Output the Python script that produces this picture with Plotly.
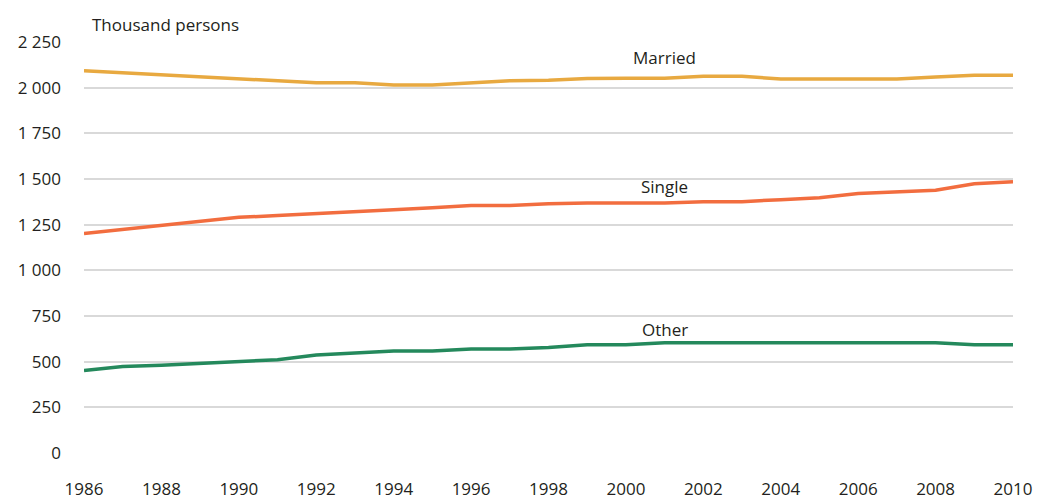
import plotly.graph_objects as go

years = list(range(1986, 2011))

married = [2092, 2081, 2070, 2060, 2049, 2038, 2027, 2027, 2015, 2015,
           2027, 2038, 2040, 2050, 2052, 2052, 2062, 2062, 2048, 2048,
           2048, 2048, 2058, 2068, 2068]
single = [1202, 1224, 1246, 1268, 1290, 1300, 1312, 1321, 1332, 1343,
          1355, 1355, 1365, 1369, 1369, 1369, 1376, 1376, 1387, 1398,
          1420, 1431, 1438, 1474, 1485]
other = [451, 473, 480, 490, 500, 511, 537, 548, 559, 559,
         570, 570, 578, 592, 592, 604, 604, 604, 604, 604,
         604, 604, 604, 593, 593]

series_names = ["Married", "Single", "Other"]
series_colors = ["#E8A940", "#F26D3F", "#24895C"]
label_pos = [(2001, 2163), (2001, 1458), (2001, 675)]

y_ticks = [0, 250, 500, 750, 1000, 1250, 1500, 1750, 2000, 2250]
x_ticks = list(range(1986, 2011, 2))

FONT = "Open Sans, Noto Sans, sans-serif"

fig = go.Figure()
for name, vals, color in zip(series_names, [married, single, other], series_colors):
    fig.add_trace(go.Scatter(
        x=years, y=vals, mode="lines", name=name,
        line=dict(color=color, width=3.5),
        hovertemplate="%{x}: %{y}<extra>" + name + "</extra>",
    ))

for name, (lx, ly) in zip(series_names, label_pos):
    fig.add_annotation(x=lx, y=ly, text=name, showarrow=False,
                       font=dict(size=17, color="#231F20", family=FONT))

fig.add_annotation(xref="paper", yref="paper", x=0.006, y=1, yanchor="bottom",
                   xanchor="left", yshift=4, text="Thousand persons", showarrow=False,
                   font=dict(size=17, color="#231F20", family=FONT))

# page body has an 8px margin, so the figure is drawn 8px in and 8px down
fig.update_layout(
    width=1039, height=493,
    margin=dict(l=76, r=34, t=34, b=48),
    plot_bgcolor="white", paper_bgcolor="white",
    showlegend=False,
    separators=". ",
    font=dict(family=FONT, size=17, color="#231F20"),
    xaxis=dict(range=[1986, 2010], tickvals=x_ticks, showgrid=False,
               zeroline=False, showline=False, ticks="", automargin=False,
               ticklabelstandoff=24, tickfont=dict(size=17)),
    yaxis=dict(range=[0, 2250], tickvals=y_ticks, showgrid=True,
               gridcolor="#D9D9D9", gridwidth=1.5, zeroline=False,
               showline=False, ticks="", separatethousands=True, automargin=False,
               ticklabelstandoff=22, tickfont=dict(size=17)),
)

fig.write_html("out.html")
